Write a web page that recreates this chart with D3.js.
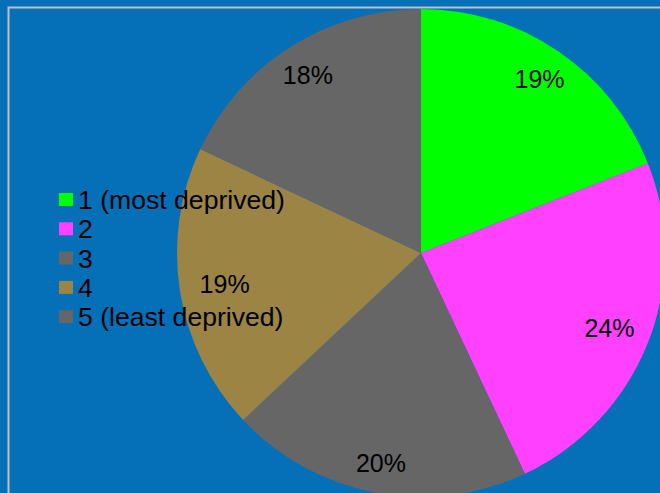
<!DOCTYPE html>
<html>
<head>
<meta charset="utf-8">
<script src="https://cdn.jsdelivr.net/npm/d3@7"></script>
<style>
  html, body { margin: 0; padding: 0; background: #0570b8; }
  svg { display: block; }
</style>
</head>
<body>
<svg id="chart" width="660" height="493"></svg>
<script>
// Deprivation quintiles and their share (%)
const categories = ["1 (most deprived)", "2", "3", "4", "5 (least deprived)"];
const values = [19, 24, 20, 19, 18];
const colors = ["#00ff00", "#ff40ff", "#666666", "#9c8444", "#666666"];

const width = 660, height = 493;
const svg = d3.select("#chart");

svg.append("rect").attr("width", width).attr("height", height).attr("fill", "#0570b8");

const cx = 421, cy = 253, radius = 244;

const pie = d3.pie().sort(null).value(d => d)(values);
const arc = d3.arc().innerRadius(0).outerRadius(radius);

// Labels sit a little further out near the top/bottom of the pie,
// where the wide text boxes have more room.
function labelPos(d) {
  const a = (d.startAngle + d.endAngle) / 2;
  const r = 196 + 18 * Math.abs(Math.cos(a));
  return [r * Math.sin(a), -r * Math.cos(a)];
}

const g = svg.append("g").attr("transform", `translate(${cx},${cy})`);

g.selectAll("path.slice")
  .data(pie)
  .join("path")
  .attr("class", "slice")
  .attr("d", arc)
  .attr("fill", (d, i) => colors[i]);

g.selectAll("text.pct")
  .data(pie)
  .join("text")
  .attr("class", "pct")
  .attr("transform", d => `translate(${labelPos(d)})`)
  .attr("text-anchor", "middle")
  .attr("dy", "0.36em")
  .attr("font-family", "'Liberation Sans', Arial, sans-serif")
  .attr("font-size", 25)
  .attr("fill", "#000")
  .text(d => d.data + "%");

// Plot-area frame
svg.append("rect")
  .attr("x", 8.5).attr("y", 7.5)
  .attr("width", 700).attr("height", 600)
  .attr("fill", "none")
  .attr("stroke", "#c0c0c0")
  .attr("stroke-width", 2);

// Legend
const legend = svg.append("g").attr("transform", "translate(59,193)");
const rows = legend.selectAll("g.row")
  .data(categories)
  .join("g")
  .attr("class", "row")
  .attr("transform", (d, i) => `translate(0,${i * 29.3})`);

rows.append("rect")
  .attr("width", 14).attr("height", 13)
  .attr("fill", (d, i) => colors[i]);

rows.append("text")
  .attr("x", 19)
  .attr("y", 16)
  .attr("font-family", "'Liberation Sans', Arial, sans-serif")
  .attr("font-size", 26.6)
  .attr("fill", "#000")
  .text(d => d);
</script>
</body>
</html>
